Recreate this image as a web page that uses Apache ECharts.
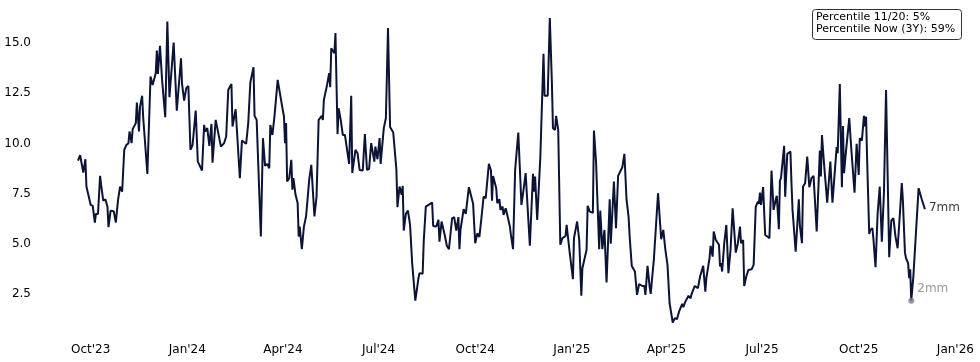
<!DOCTYPE html>
<html><head><meta charset="utf-8">
<script src="https://cdn.jsdelivr.net/npm/echarts@6/dist/echarts.min.js"></script>
<style>html,body{margin:0;padding:0;background:#fff}#c{width:980px;height:362px}</style>
</head><body><div id="c"></div>
<script>
const dates = [
'2023-09-19','2023-09-21','2023-09-24','2023-09-26','2023-09-27','2023-10-01','2023-10-03','2023-10-05','2023-10-06','2023-10-08',
'2023-10-10','2023-10-11','2023-10-13','2023-10-15','2023-10-17','2023-10-18','2023-10-20','2023-10-23','2023-10-25','2023-10-27',
'2023-10-29','2023-10-31','2023-11-02','2023-11-04','2023-11-06','2023-11-07','2023-11-09','2023-11-10','2023-11-13','2023-11-14',
'2023-11-16','2023-11-17','2023-11-19','2023-11-20','2023-11-24','2023-11-27','2023-11-29','2023-12-02','2023-12-03','2023-12-04',
'2023-12-06','2023-12-08','2023-12-11','2023-12-13','2023-12-15','2023-12-19','2023-12-22','2023-12-26','2023-12-27','2023-12-29',
'2023-12-31','2024-01-02','2024-01-04','2024-01-06','2024-01-09','2024-01-11','2024-01-15','2024-01-17','2024-01-18','2024-01-20',
'2024-01-22','2024-01-24','2024-01-25','2024-01-28','2024-02-02','2024-02-05','2024-02-07','2024-02-09','2024-02-12','2024-02-13',
'2024-02-16','2024-02-20','2024-02-22','2024-02-26','2024-02-28','2024-03-01','2024-03-04','2024-03-05','2024-03-07','2024-03-11',
'2024-03-13','2024-03-15','2024-03-17','2024-03-19','2024-03-20','2024-03-22','2024-03-24','2024-03-27','2024-03-31','2024-04-02',
'2024-04-03','2024-04-04','2024-04-05','2024-04-07','2024-04-09','2024-04-10','2024-04-11','2024-04-13','2024-04-15','2024-04-16',
'2024-04-17','2024-04-19','2024-04-21','2024-04-23','2024-04-24','2024-04-26','2024-04-28','2024-05-01','2024-05-03','2024-05-05',
'2024-05-08','2024-05-09','2024-05-10','2024-05-13','2024-05-14','2024-05-15','2024-05-16','2024-05-17','2024-05-20','2024-05-21',
'2024-05-23','2024-05-24','2024-05-26','2024-05-28','2024-05-30','2024-06-03','2024-06-05','2024-06-06','2024-06-09','2024-06-11',
'2024-06-13','2024-06-16','2024-06-18','2024-06-20','2024-06-22','2024-06-24','2024-06-27','2024-06-28','2024-06-30','2024-07-02',
'2024-07-03','2024-07-06','2024-07-08','2024-07-10','2024-07-12','2024-07-15','2024-07-18','2024-07-19','2024-07-21','2024-07-23',
'2024-07-24','2024-07-25','2024-07-27','2024-07-29','2024-07-31','2024-08-02','2024-08-05','2024-08-08','2024-08-09','2024-08-12',
'2024-08-13','2024-08-15','2024-08-21','2024-08-22','2024-08-25','2024-08-27','2024-08-28','2024-08-30','2024-09-02','2024-09-04',
'2024-09-06','2024-09-09','2024-09-11','2024-09-13','2024-09-15','2024-09-16','2024-09-17','2024-09-20','2024-09-22','2024-09-25',
'2024-09-29','2024-10-01','2024-10-03','2024-10-05','2024-10-07','2024-10-09','2024-10-11','2024-10-14','2024-10-16','2024-10-17',
'2024-10-18','2024-10-21','2024-10-22','2024-10-24','2024-10-25','2024-10-27','2024-10-28','2024-10-30','2024-11-01','2024-11-03',
'2024-11-04','2024-11-06','2024-11-08','2024-11-11','2024-11-14','2024-11-16','2024-11-18','2024-11-22','2024-11-25','2024-11-26',
'2024-11-27','2024-11-29','2024-12-02','2024-12-05','2024-12-06','2024-12-09','2024-12-11','2024-12-13','2024-12-14','2024-12-16',
'2024-12-17','2024-12-19','2024-12-21','2024-12-23','2024-12-26','2024-12-27','2024-12-30','2025-01-02','2025-01-03','2025-01-06',
'2025-01-08','2025-01-10','2025-01-11','2025-01-15','2025-01-16','2025-01-18','2025-01-21','2025-01-22','2025-01-24','2025-01-27',
'2025-01-28','2025-01-30','2025-02-01','2025-02-03','2025-02-06','2025-02-07','2025-02-10','2025-02-12','2025-02-14','2025-02-18',
'2025-02-20','2025-02-22','2025-02-24','2025-02-25','2025-02-27','2025-03-02','2025-03-04','2025-03-06','2025-03-09','2025-03-11',
'2025-03-12','2025-03-14','2025-03-16','2025-03-17','2025-03-20','2025-03-21','2025-03-24','2025-03-25','2025-03-27','2025-03-29',
'2025-03-31','2025-04-02','2025-04-04','2025-04-07','2025-04-09','2025-04-11','2025-04-13','2025-04-16','2025-04-17','2025-04-19',
'2025-04-20','2025-04-22','2025-04-24','2025-04-25','2025-04-28','2025-05-01','2025-05-03','2025-05-06','2025-05-08','2025-05-09',
'2025-05-12','2025-05-13','2025-05-15','2025-05-16','2025-05-18','2025-05-21','2025-05-22','2025-05-23','2025-05-24','2025-05-26',
'2025-05-28','2025-05-30','2025-06-01','2025-06-03','2025-06-06','2025-06-08','2025-06-10','2025-06-11','2025-06-13','2025-06-14',
'2025-06-16','2025-06-18','2025-06-21','2025-06-23','2025-06-25','2025-06-27','2025-06-28','2025-06-29','2025-06-30','2025-07-02',
'2025-07-04','2025-07-06','2025-07-08','2025-07-09','2025-07-10','2025-07-12','2025-07-14','2025-07-15','2025-07-17','2025-07-18',
'2025-07-19','2025-07-22','2025-07-23','2025-07-25','2025-07-28','2025-07-29','2025-07-30','2025-08-02','2025-08-05','2025-08-06',
'2025-08-08','2025-08-09','2025-08-11','2025-08-13','2025-08-15','2025-08-17','2025-08-19','2025-08-22','2025-08-25','2025-08-26',
'2025-08-27','2025-08-29','2025-09-01','2025-09-04','2025-09-06','2025-09-10','2025-09-11','2025-09-13','2025-09-14','2025-09-15',
'2025-09-16','2025-09-17','2025-09-19','2025-09-22','2025-09-24','2025-09-27','2025-09-29','2025-10-01','2025-10-02','2025-10-04',
'2025-10-06','2025-10-07','2025-10-08','2025-10-09','2025-10-11','2025-10-12','2025-10-14','2025-10-15','2025-10-17','2025-10-19',
'2025-10-21','2025-10-23','2025-10-25','2025-10-27','2025-10-28','2025-10-30','2025-11-01','2025-11-03','2025-11-04','2025-11-05',
'2025-11-06','2025-11-07','2025-11-09','2025-11-11','2025-11-12','2025-11-14','2025-11-15','2025-11-17','2025-11-18','2025-11-19',
'2025-11-20','2025-11-22','2025-11-25','2025-11-27','2025-11-30','2025-12-03'
];
const values = [
9.15,9.42,8.56,9.22,7.86,6.95,6.90,6.07,6.50,6.50,
8.39,7.94,7.16,7.23,6.86,5.84,6.66,6.63,6.07,7.16,
7.86,7.61,9.69,9.93,10.02,10.60,10.02,10.72,11.02,12.04,
10.60,11.84,12.38,11.31,8.49,13.34,12.92,13.51,14.63,13.47,
14.87,13.17,11.31,16.08,12.31,15.03,11.64,14.25,12.97,12.14,
12.76,12.87,9.69,9.93,11.64,9.10,8.66,10.93,10.60,10.77,
9.89,10.98,9.05,11.18,9.85,10.02,10.35,12.68,12.97,10.85,
11.71,8.28,10.15,9.99,11.02,13.04,13.80,11.38,11.18,5.37,
10.27,8.89,8.99,8.77,10.93,10.43,11.38,13.17,11.93,11.35,
10.02,11.02,8.11,8.28,9.19,7.70,8.28,7.45,7.04,5.37,
5.87,4.74,5.87,6.37,6.95,8.19,8.94,6.37,7.36,11.18,
11.38,11.18,12.18,12.92,12.84,13.51,12.81,14.75,14.50,15.50,
10.48,11.76,11.18,10.43,10.43,8.99,12.38,8.53,9.69,9.52,
8.69,8.66,10.48,8.69,8.73,10.02,9.10,9.85,9.22,10.27,
8.99,10.77,11.27,15.75,10.82,10.55,8.69,6.83,7.86,7.45,
7.89,5.67,6.50,6.66,5.95,4.05,2.18,3.30,3.55,3.52,
5.12,6.86,7.06,5.90,5.87,6.20,5.12,6.12,5.45,4.91,
4.74,6.28,6.34,5.67,6.34,4.74,5.70,6.73,6.50,7.83,
7.00,5.04,5.53,5.35,6.34,7.36,7.28,8.99,8.66,7.16,
8.39,7.78,7.03,7.23,6.70,6.86,6.45,6.78,6.34,5.87,
5.45,4.74,8.69,10.55,6.95,7.70,8.53,4.91,8.49,7.61,
8.36,6.20,9.35,14.47,12.38,12.38,16.25,13.01,10.77,10.68,
11.38,10.68,4.96,5.29,5.40,5.95,4.54,3.25,5.29,6.12,
5.20,2.42,3.79,4.71,6.90,6.61,6.56,10.65,9.10,4.74,
6.66,4.74,5.70,3.08,7.23,5.01,8.11,5.79,8.39,8.82,
9.49,7.23,6.34,5.37,3.91,3.63,2.47,3.01,2.91,2.91,
2.47,3.91,2.88,2.52,4.21,4.24,7.53,7.50,5.24,5.70,
4.71,3.96,2.05,1.09,1.31,1.26,1.63,2.02,1.85,2.13,
2.05,2.42,2.30,2.52,2.91,2.80,3.38,3.91,2.63,3.30,
4.29,4.91,4.37,5.62,5.20,4.96,3.88,4.05,3.63,5.04,
5.95,3.55,4.71,6.78,4.57,5.04,5.87,5.04,5.20,2.91,
3.38,3.71,3.74,3.96,6.86,7.11,7.00,7.56,6.95,7.83,
5.45,5.37,5.29,6.86,8.66,6.70,7.20,7.40,5.74,8.16,
8.28,9.89,7.36,9.49,9.60,8.03,6.70,4.62,7.23,5.90,
5.04,7.86,8.03,9.35,7.83,8.28,8.39,5.62,9.65,8.36,
10.43,8.99,7.06,9.10,7.06,9.82,9.52,12.97,10.35,7.83,
10.88,8.53,9.69,11.27,9.69,7.56,9.99,8.44,10.27,10.15,
11.38,10.85,11.34,9.19,5.50,5.70,5.79,5.24,3.85,6.53,
7.86,5.12,7.53,12.67,9.89,4.34,6.16,6.29,6.34,5.37,
5.45,4.79,6.37,8.03,7.20,4.57,4.29,4.05,3.30,3.74,
2.18,3.38,6.04,7.78,7.23,6.73
];
const yTicks = [2.5, 5.0, 7.5, 10.0, 12.5, 15.0];
const xTicks = ['2023-10-01','2024-01-01','2024-04-01','2024-07-01','2024-10-01','2025-01-01','2025-04-01','2025-07-01','2025-10-01','2026-01-01'];
const xRange = ['2023-08-10','2026-01-13'];
const yRange = [0.32, 16.95];
const legendLines = ['Percentile 11/20: 5%', 'Percentile Now (3Y): 59%'];
const markDate = '2025-11-20';
const unit = 'mm';

const FONT = 'DejaVu Sans';
const MON = ['Jan','Feb','Mar','Apr','May','Jun','Jul','Aug','Sep','Oct','Nov','Dec'];
function ts(s){ const p = s.split('-').map(Number); return Date.UTC(p[0], p[1]-1, p[2]); }
const lineData = dates.map((d, i) => [ts(d), values[i]]);
const lastPt = lineData[lineData.length - 1];
const markPt = lineData[dates.indexOf(markDate)];

const chart = echarts.init(document.getElementById('c'), null, {renderer: 'canvas'});
chart.setOption({
  animation: false,
  backgroundColor: '#fff',
  grid: {left: 36, right: 12, top: 4, bottom: 24},
  xAxis: {
    type: 'value', min: ts(xRange[0]), max: ts(xRange[1]), scale: true,
    axisLine: {show: false}, axisTick: {show: false}, splitLine: {show: false},
    axisLabel: {
      customValues: xTicks.map(ts),
      formatter: v => { const d = new Date(v); return MON[d.getUTCMonth()] + "'" + String(d.getUTCFullYear()).slice(2); },
      color: '#000', fontFamily: FONT, fontSize: 12, margin: 6, hideOverlap: false
    }
  },
  yAxis: {
    type: 'value', min: yRange[0], max: yRange[1],
    axisLine: {show: false}, axisTick: {show: false}, splitLine: {show: false},
    axisLabel: {
      customValues: yTicks,
      formatter: v => Number(v).toFixed(1),
      color: '#000', fontFamily: FONT, fontSize: 12, margin: 5
    }
  },
  series: [
    {type: 'line', data: lineData, showSymbol: false, symbol: 'none',
     lineStyle: {color: '#0b1336', width: 2}, z: 2, silent: true},
    {type: 'scatter', data: [markPt], symbolSize: 6, itemStyle: {color: '#808080'}, z: 3,
     label: {show: true, formatter: Math.round(markPt[1]) + unit, position: 'right', distance: 3,
             offset: [0, -12], color: '#808080', fontFamily: FONT, fontSize: 12}},
    {type: 'scatter', data: [lastPt], symbolSize: 0, z: 3,
     label: {show: true, formatter: Math.round(lastPt[1]) + unit, position: 'right', distance: 4,
             offset: [0, -1], color: '#000', fontFamily: FONT, fontSize: 12}}
  ],
  graphic: [{
    type: 'group', left: 812, top: 9,
    children: [
      {type: 'rect', shape: {x: 0.5, y: 0.5, width: 149, height: 30, r: 3},
       style: {fill: '#fff', stroke: '#333', lineWidth: 1}},
      {type: 'text', x: 4, y: 8, style: {text: legendLines[0], fontFamily: FONT, fontSize: 11, fill: '#000', verticalAlign: 'middle'}},
      {type: 'text', x: 4, y: 20.5, style: {text: legendLines[1], fontFamily: FONT, fontSize: 11, fill: '#000', verticalAlign: 'middle'}}
    ]
  }]
});
</script>
</body></html>
